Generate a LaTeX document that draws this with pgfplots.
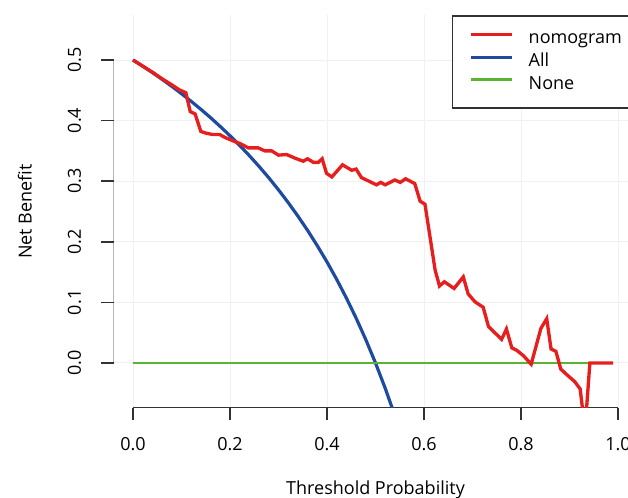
\documentclass[border=0pt]{standalone}
\usepackage{pgfplots}
\pgfplotsset{compat=1.18}
\usepackage{fontspec}
\setmainfont{Open Sans}
\definecolor{nomred}{RGB}{230,30,30}
\definecolor{allblue}{RGB}{30,75,160}
\definecolor{nonegreen}{RGB}{90,180,50}
\definecolor{axgray}{RGB}{50,50,50}
\definecolor{gridgray}{RGB}{240,240,240}
\begin{document}
\begin{tikzpicture}
\useasboundingbox (0pt,0pt) rectangle (471pt,373.5pt);
\clip (0pt,0pt) rectangle (471pt,373.5pt);
\begin{axis}[
  at={(85.2pt,67.65pt)}, anchor=south west,
  scale only axis, width=392.85pt, height=294.45pt,
  xmin=-0.04, xmax=1.04, ymin=-0.074, ymax=0.574,
  axis line style={draw=none},
  xtick={0,0.2,0.4,0.6,0.8,1.0},
  xticklabels={0.0,0.2,0.4,0.6,0.8,1.0},
  ytick={0,0.1,0.2,0.3,0.4,0.5},
  yticklabels={0.0,0.1,0.2,0.3,0.4,0.5},
  xtick pos=left, ytick pos=left,
  tick align=outside,
  major tick length=9.4pt,
  tick style={axgray, line width=1.1pt},
  grid=major,
  major grid style={gridgray, line width=0.7pt},
  font=\fontsize{13.5}{16}\selectfont,
  xticklabel style={anchor=north, inner sep=0pt},
  yticklabel style={rotate=90, anchor=south, inner sep=0pt},
  xticklabel shift=12.8pt,
  yticklabel shift=14.8pt,
  xlabel={Threshold Probability},
  ylabel={Net Benefit},
  xlabel style={at={(axis description cs:0.5,-0.2196)}, anchor=base, inner sep=0pt},
  ylabel style={at={(axis description cs:-0.1567,0.5)}, anchor=base, inner sep=0pt},
  legend style={at={(axis description cs:0.646,1.0)}, anchor=north west,
    draw=axgray, line width=1.1pt, fill=white,
    inner xsep=12.5pt, inner ysep=10.9pt,
    row sep=4.1pt, column sep=11.5pt,
    font=\fontsize{13.5}{16}\selectfont,
    nodes={inner sep=0pt, text height=10pt, text depth=3pt}},
  legend cell align=left,
  legend image code/.code={\draw[#1, line width=2.3pt] (0pt,3.6pt) -- (30.7pt,3.6pt);},
]
\addlegendimage{nomred}
\addlegendentry{\makebox[84pt][l]{nomogram}}
\addlegendimage{allblue}
\addlegendentry{All}
\addlegendimage{nonegreen}
\addlegendentry{None}

\draw[axgray, line width=1.1pt] (axis cs:0,-0.074) -- (axis cs:1,-0.074);
\draw[axgray, line width=1.1pt] (axis cs:-0.04,0) -- (axis cs:-0.04,0.5);

\addplot[forget plot, allblue, line width=2.4pt] coordinates {
(0,0.5) (0.02,0.4898) (0.04,0.4792) (0.06,0.4681) (0.08,0.4565) (0.10,0.4444)
(0.12,0.4318) (0.14,0.4186) (0.16,0.4048) (0.18,0.3902) (0.20,0.375) (0.22,0.3590)
(0.24,0.3421) (0.26,0.3243) (0.28,0.3056) (0.30,0.2857) (0.32,0.2647) (0.34,0.2424)
(0.36,0.2188) (0.38,0.1935) (0.40,0.1667) (0.42,0.1379) (0.44,0.1071) (0.46,0.0741)
(0.48,0.0385) (0.50,0) (0.52,-0.0417) (0.54,-0.0870)
};
\addplot[forget plot, nonegreen, line width=2.1pt] coordinates {(0,0) (0.99,0)};
\addplot[forget plot, nomred, line width=2.5pt] coordinates {
(0,0.5) (0.02,0.490) (0.04,0.480) (0.06,0.469) (0.08,0.459) (0.095,0.451)
(0.109,0.446) (0.118,0.415) (0.128,0.411) (0.140,0.382) (0.152,0.379) (0.165,0.377)
(0.179,0.377) (0.190,0.372) (0.205,0.367) (0.221,0.362) (0.238,0.355) (0.258,0.355)
(0.272,0.350) (0.286,0.350) (0.300,0.343) (0.317,0.344) (0.334,0.338) (0.351,0.333)
(0.360,0.337) (0.372,0.331) (0.382,0.331) (0.390,0.337) (0.399,0.313) (0.410,0.307)
(0.432,0.327) (0.451,0.318) (0.460,0.320) (0.471,0.306) (0.489,0.299) (0.502,0.294)
(0.511,0.298) (0.520,0.294) (0.540,0.302) (0.551,0.298) (0.562,0.304) (0.581,0.296)
(0.592,0.267) (0.602,0.262) (0.623,0.153) (0.632,0.127) (0.642,0.134) (0.662,0.123)
(0.681,0.142) (0.691,0.114) (0.705,0.101) (0.722,0.092) (0.733,0.060) (0.760,0.039)
(0.770,0.056) (0.781,0.025) (0.791,0.021) (0.805,0.012) (0.821,-0.002) (0.841,0.057)
(0.853,0.073) (0.862,0.023) (0.872,0.019) (0.882,-0.010) (0.894,-0.019) (0.911,-0.031)
(0.922,-0.043) (0.932,-0.110) (0.942,0.0) (0.99,0.0)
};
\end{axis}
\end{tikzpicture}
\end{document}
